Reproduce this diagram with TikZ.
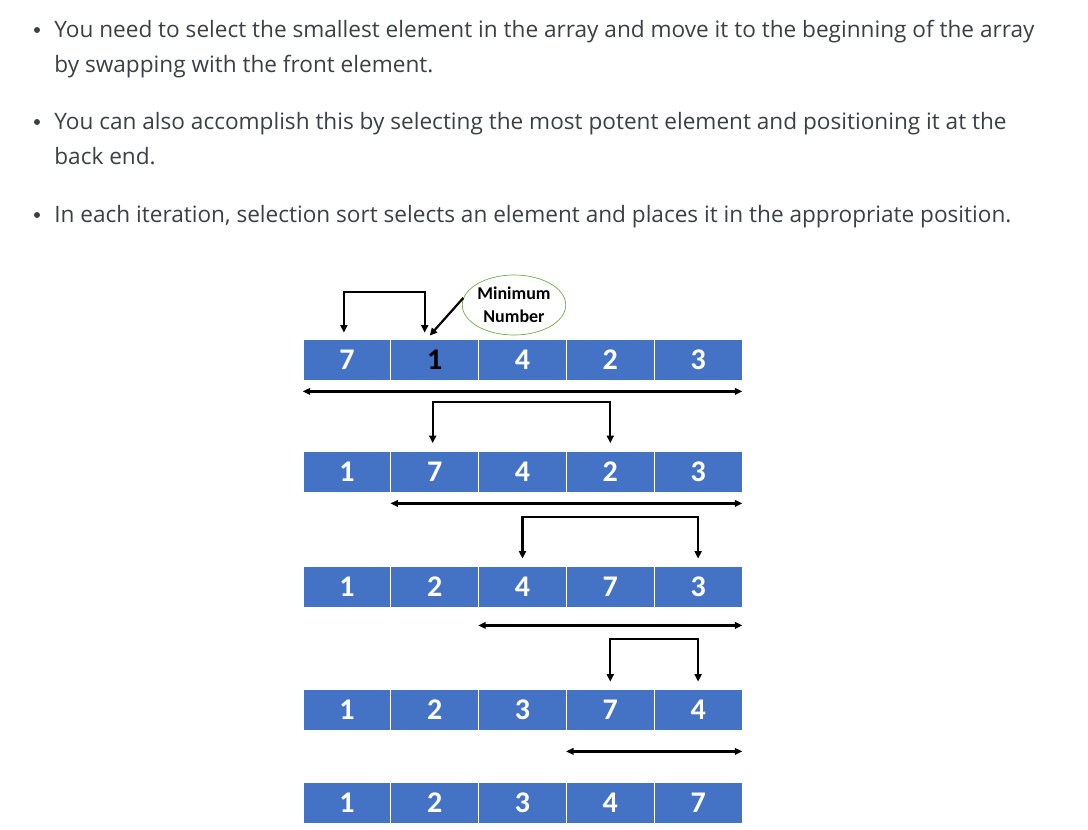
\documentclass[tikz,border=0pt]{standalone}
\usepackage{fontspec}
\setmainfont{Open Sans}
\newfontfamily\calibri{Carlito}
\usetikzlibrary{calc,shapes.geometric,arrows.meta}
\definecolor{bodytext}{RGB}{60,64,67}
\definecolor{cellblue}{RGB}{68,114,196}
\definecolor{ringgreen}{RGB}{112,173,71}
\tikzset{every picture/.style={line width=0.75pt}}

\begin{document}
\begin{tikzpicture}[x=1pt,y=1pt,yscale=-1,xscale=1,
    cell/.style={draw=white,fill=cellblue,line width=0.8pt,minimum width=87.8pt,minimum height=41pt,inner sep=0pt,text=white,font=\calibri\bfseries\fontsize{30}{30}\selectfont},
    dot/.style={circle,fill=bodytext,inner sep=0pt,minimum size=6pt},
    para/.style={anchor=base west,inner sep=0pt,text=bodytext,font=\fontsize{22.6}{35}\selectfont},
    swaparrow/.style={line width=2.2pt,{Triangle[length=7.5pt,width=7pt]}-{Triangle[length=7.5pt,width=7pt]}},
    spanarrow/.style={line width=2.2pt,{Triangle[length=7.5pt,width=6.5pt]}-{Triangle[length=7.5pt,width=6.5pt]}},
    pointer/.style={line width=2.2pt,-{Triangle[length=7.5pt,width=7pt]}}
  ]
  \fill[white] (0,0) rectangle (1088,830);
  \useasboundingbox (0,0) rectangle (1088,830);

  % Bullet list
  \node[dot] (b1) at (37,30) {};
  \node[para] (line1a) at (54,37) {You need to select the smallest element in the array and move it to the beginning of the array};
  \node[para] (line1b) at (54,72.5) {by swapping with the front element.};
  \node[dot] (b2) at (37,122) {};
  \node[para] (line2a) at (54,129) {You can also accomplish this by selecting the most potent element and positioning it at the};
  \node[para] (line2b) at (54,164.5) {back end.};
  \node[dot] (b3) at (37,215) {};
  \node[para] (line3) at (54,222) {In each iteration, selection sort selects an element and places it in the appropriate position.};

  % Array rows
  \foreach \row/\yy/\vals in {1/359.5/{7,{\color{black}1},4,2,3},2/472/{1,7,4,2,3},3/586.5/{1,2,4,7,3},4/709.5/{1,2,3,7,4},5/802.5/{1,2,3,4,7}}
    \foreach \v [count=\col] in \vals
      \node[cell] (r\row-\col) at ({303+87.8*(\col-0.5)},\yy) {\v};

  % Minimum marker
  \node[ellipse,draw=ringgreen,line width=0.7pt,minimum width=90pt,minimum height=60pt,inner sep=0pt,align=center,font=\calibri\bfseries\fontsize{18}{23}\selectfont] (minnum) at (514,305) {Minimum\\Number};
  \draw[pointer] (minnum.172) -- ($(r1-2.north)+(-5,-3)$);

  % Swaps
  \draw[swaparrow] ($(r1-1.north)+(-3,-6)$) -- ++(0,-41) -| ($(r1-2.north)+(-10,-6)$);
  \draw[swaparrow] ($(r2-2.north)+(-2,-8)$) -- ++(0,-41.5) -| ($(r2-4.north)+(0,-8)$);
  \draw[swaparrow] ($(r3-3.north)+(0,-7)$) -- ++(0,-42) -| ($(r3-5.north)+(0,-7)$);
  \draw[swaparrow] ($(r4-4.north)+(0,-7)$) -- ++(0,-43) -| ($(r4-5.north)+(0,-7)$);

  % Unsorted part
  \draw[spanarrow] ($(r1-1.south west)+(0,11)$) -- ($(r1-5.south east)+(0,11)$);
  \draw[spanarrow] ($(r2-2.south west)+(0,10.5)$) -- ($(r2-5.south east)+(0,10.5)$);
  \draw[spanarrow] ($(r3-3.south west)+(0,18)$) -- ($(r3-5.south east)+(0,18)$);
  \draw[spanarrow] ($(r4-4.south west)+(0,21)$) -- ($(r4-5.south east)+(0,21)$);
\end{tikzpicture}
\end{document}
